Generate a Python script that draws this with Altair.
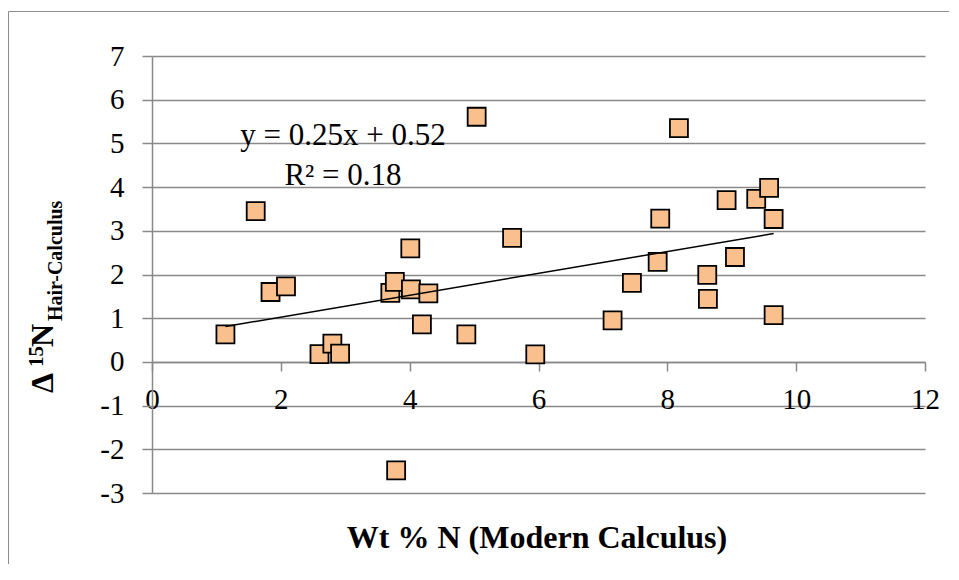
import altair as alt
import pandas as pd

# ---- data ----
WT_N = [1.14, 1.61, 1.84, 2.08, 2.60, 2.80, 2.92, 3.70, 3.77, 3.79, 4.01, 4.02,
        4.19, 4.29, 4.88, 5.04, 5.59, 5.95, 7.15, 7.45, 7.85, 7.89, 8.18, 8.62,
        8.63, 8.92, 9.05, 9.38, 9.58, 9.65, 9.65]
D15N = [0.63, 3.45, 1.60, 1.73, 0.18, 0.42, 0.19, 1.58, 1.83, -2.48, 2.60, 1.66,
        0.86, 1.57, 0.63, 5.61, 2.84, 0.17, 0.95, 1.81, 2.29, 3.28, 5.35, 1.99,
        1.44, 3.70, 2.40, 3.73, 3.98, 3.27, 1.07]

X_TICKS = [0, 2, 4, 6, 8, 10, 12]
Y_TICKS = [-3, -2, -1, 0, 1, 2, 3, 4, 5, 6, 7]
EQ_LINES = ["y = 0.25x + 0.52", "R² = 0.18"]
X_TITLE = "Wt % N (Modern Calculus)"
Y_TITLE_PARTS = ["Δ", "15", "N", "Hair-Calculus"]

SERIF = "'Liberation Serif', 'Times New Roman', 'DejaVu Serif', serif"
GRID = "#898989"
FILL = "#F9C08E"

W, H = 773, 437
PAD = {"left": 144, "top": 48, "right": 24, "bottom": 71}

df = pd.DataFrame({"wt": WT_N, "d15n": D15N})

x_enc = alt.X(
    "wt:Q",
    scale=alt.Scale(domain=[0, 12], nice=False, zero=False),
    axis=alt.Axis(values=X_TICKS, offset=-131, title=None, grid=False,
                  tickSize=9, labelPadding=14, domainColor=GRID, tickColor=GRID,
                  domainWidth=1.5, tickWidth=1.5,
                  labelFontSize=29, labelFont=SERIF, labelColor="black",
                  labelExpr="'' + datum.value", labelFlush=False),
)
y_enc = alt.Y(
    "d15n:Q",
    scale=alt.Scale(domain=[-3, 7], nice=False, zero=False),
    axis=alt.Axis(values=Y_TICKS, title=None, grid=True, gridColor=GRID, gridWidth=1.5,
                  tickSize=10, labelPadding=18, domainColor=GRID, tickColor=GRID,
                  domainWidth=1.5, tickWidth=1.5,
                  labelFontSize=29, labelFont=SERIF, labelColor="black",
                  labelExpr="'' + datum.value"),
)

points = alt.Chart(df).mark_square(
    size=324, color=FILL, stroke="black", strokeWidth=1.8, opacity=1
).encode(x=x_enc, y=y_enc)

trend = alt.Chart(df).transform_regression("wt", "d15n").mark_line(
    color="black", strokeWidth=1.5
).encode(x="wt:Q", y="d15n:Q")


def text_layer(txt, size, xv, yv, weight="normal", align="center", angle=0):
    return alt.Chart(pd.DataFrame({"t": [txt]})).mark_text(
        font=SERIF, fontSize=size, fontWeight=weight, align=align,
        baseline="alphabetic", angle=angle, color="black"
    ).encode(text="t:N", x=alt.value(xv), y=alt.value(yv))


eq1 = text_layer(EQ_LINES[0], 31, 191, 89)
eq2 = text_layer(EQ_LINES[1], 31, 191, 129)
xtitle = text_layer(X_TITLE, 32, 385, 492, weight="bold")

ytitle = [
    text_layer(Y_TITLE_PARTS[0], 32, -99, 337, "bold", "left", 270),
    text_layer(Y_TITLE_PARTS[1], 21, -109, 311, "bold", "left", 270),
    text_layer(Y_TITLE_PARTS[2], 32, -99, 291, "bold", "left", 270),
    text_layer(Y_TITLE_PARTS[3], 20, -90, 265, "bold", "left", 270),
]

# outer chart-area frame (left and top edges only; the rest lies past the page edge)
frame = alt.Chart(pd.DataFrame({"a": [0]})).mark_rect(
    fill=None, stroke="#8c8c8c", strokeWidth=1
).encode(x=alt.value(-143.5), x2=alt.value(W + PAD["right"] + 40),
         y=alt.value(-44.5), y2=alt.value(H + PAD["bottom"] + 40))

chart = alt.layer(
    frame, points, trend, eq1, eq2, xtitle, *ytitle
).properties(
    width=W, height=H,
    autosize=alt.AutoSizeParams(type="none"),
    padding=PAD,
    background="white",
).configure_view(stroke=None)

chart.save("out.html", embed_options={"renderer": "svg", "actions": False})
